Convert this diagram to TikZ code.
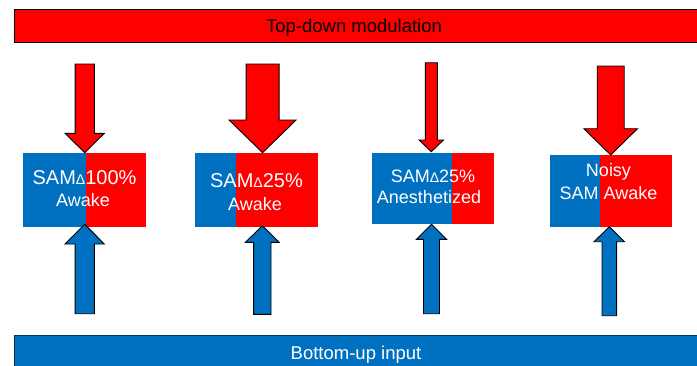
\documentclass[tikz,border=0pt]{standalone}
\usepackage{fontspec}
\setmainfont{Liberation Sans}
\definecolor{redfill}{RGB}{255,0,0}
\definecolor{bluefill}{RGB}{0,112,192}
\definecolor{blueedge}{RGB}{10,50,90}

% block arrow pointing down: x, y top, y of head base, y tip, shaft half width, head half width
\newcommand{\downblock}[6]{%
  \filldraw[blockarrow, fill=redfill]
    (#1-#5,#2) -- (#1+#5,#2) -- (#1+#5,#3) -- (#1+#6,#3) -- (#1,#4)
    -- (#1-#6,#3) -- (#1-#5,#3) -- cycle;}
% block arrow pointing up: x, y bottom, y of head base, y tip, shaft half width, head half width
\newcommand{\upblock}[6]{%
  \filldraw[blockarrow, fill=bluefill]
    (#1-#5,#2) -- (#1+#5,#2) -- (#1+#5,#3) -- (#1+#6,#3) -- (#1,#4)
    -- (#1-#6,#3) -- (#1-#5,#3) -- cycle;}

\newcommand{\dlt}{{\fontsize{14}{14}\selectfont Δ}}

\begin{document}
\begin{tikzpicture}[x=1pt, y=-1pt,
  blockarrow/.style={draw=black, line width=0.9pt, line join=miter},
  bigtxt/.style={font=\fontsize{20}{22}\selectfont, text=white, anchor=base, inner sep=0pt},
  txt/.style={font=\fontsize{18}{20}\selectfont, text=white, anchor=base, inner sep=0pt},
  bartxt/.style={font=\fontsize{18.5}{20}\selectfont, anchor=base, inner sep=0pt}]
\useasboundingbox (0,0) rectangle (697,365);

% modulation bars
\filldraw[fill=redfill, draw=black, line width=0.9pt] (14.3,9.7) rectangle (705,42.3);
\node[bartxt, text=black] (topbar) at (354,32.7) {Top-down modulation};
\filldraw[fill=bluefill, draw=blueedge, line width=0.9pt] (14.3,335.3) rectangle (705,375);
\node[bartxt, text=white] (botbar) at (356,359.3) {Bottom-up input};

% split boxes: blue part, then red part
\fill[bluefill] (23,153) rectangle (85.5,226.7);
\fill[redfill] (85.5,153) rectangle (146,226.7);
\fill[bluefill] (195,153) rectangle (236,226.7);
\fill[redfill] (236,153) rectangle (317.7,226.7);
\fill[bluefill] (372,153) rectangle (451.7,224);
\fill[redfill] (451.7,153) rectangle (494,224);
\fill[bluefill] (550,155) rectangle (599.7,226.7);
\fill[redfill] (599.7,155) rectangle (671.7,226.7);

% box labels
\node[bigtxt] (a1) at (84.5,184) {SAM\dlt100\%};
\node[txt] (a2) at (83,206.7) {Awake};
\node[bigtxt] (b1) at (256.5,187.3) {SAM\dlt25\%};
\node[txt] (b2) at (255,210.7) {Awake};
\node[txt] (c1) at (433,182) {SAM\dlt25\%};
\node[txt] (c2) at (429,203.3) {Anesthetized};
\node[txt] (d1) at (608.5,176) {Noisy};
\node[txt] (d2) at (608.5,199) {SAM Awake};

% top-down arrows
\downblock{84.7}{64}{133.3}{152.7}{9.65}{19.65}
\downblock{262.6}{64}{120}{152.7}{16.5}{33.5}
\downblock{431.3}{62.7}{140}{151.7}{6}{12.2}
\downblock{610.7}{66}{128.7}{155}{13.5}{26.8}

% bottom-up arrows
\upblock{84.7}{313.7}{244}{224.3}{9.65}{19.65}
\upblock{262.3}{314.3}{242.3}{225.7}{8.7}{16.8}
\upblock{431.5}{313.7}{239.3}{224.3}{8}{15}
\upblock{609.3}{315.7}{241.7}{226.7}{7.3}{15.2}
\end{tikzpicture}
\end{document}
